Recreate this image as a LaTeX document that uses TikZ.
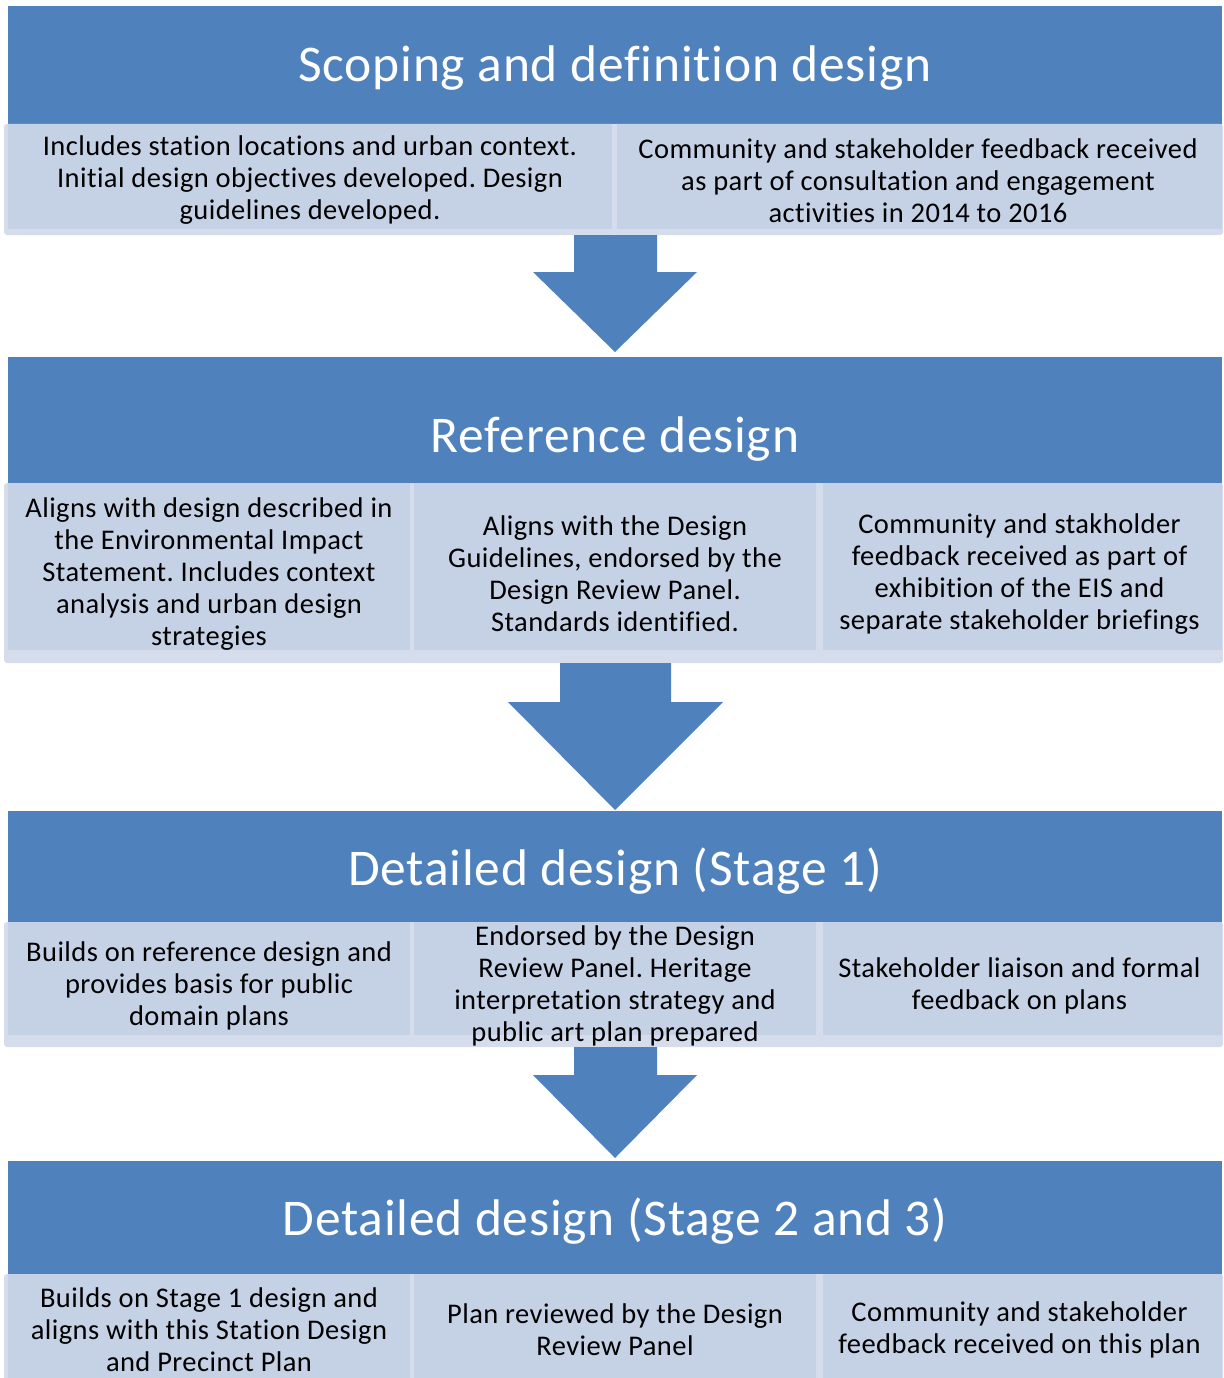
\documentclass[tikz,border=0pt]{standalone}
\usepackage{fontspec}
\setmainfont{Carlito}[LetterSpace=1.5, Ligatures=NoCommon]
\frenchspacing
\usetikzlibrary{calc}
\definecolor{hdr}{HTML}{4F81BD}
\definecolor{subfill}{HTML}{C5D1E5}
\definecolor{frm}{HTML}{D5DCEC}
\tikzset{
  hdrtxt/.style={anchor=base, text=white, font=\fontsize{51.5}{60}\selectfont, inner sep=0},
  subtxt/.style={align=center, text=black, font=\fontsize{28.5}{32}\selectfont, inner sep=0},
  blockarrow/.style={fill=hdr}
}
% #1 name, #2 fx1, #3 fx2, #4 ix1, #5 ix2, #6 top, #7 inner bottom, #8 frame bottom, #9 text
\newcommand{\subcell}[9]{%
  \fill[frm, rounded corners=3] (#2,#6) rectangle (#3,#8);
  \fill[subfill] (#4,#6) rectangle (#5,#7);
  \node[subtxt] (#1) at ($(#2,#6)!0.5!(#3,#8)+(0,1)$) {#9};
}
\begin{document}
\begin{tikzpicture}[x=1pt,y=-1pt]
\useasboundingbox (0,0) rectangle (1223,1378);
\fill[white] (0,0) rectangle (1223,1378);

% headers
\fill[hdr] (8,6) rectangle (1222,124);
\node[hdrtxt] (t1) at (615,82) {Scoping and definition design};
\fill[hdr] (8,357) rectangle (1222,483);
\node[hdrtxt] (t2) at (615,452) {Reference design};
\fill[hdr] (8,811) rectangle (1222,922);
\node[hdrtxt] (t3) at (615,885) {Detailed design (Stage 1)};
\fill[hdr] (8,1161) rectangle (1222,1274);
\node[hdrtxt] (t4) at (615,1235) {Detailed design (Stage 2 and 3)};

% row 1
\subcell{a1}{4}{616}{8}{612}{124}{229}{235}{Includes station locations and urban context.\\Initial design objectives developed. Design\\guidelines developed.}
\subcell{a2}{613}{1223}{617}{1222}{124}{229}{235}{Community and stakeholder feedback received\\as part of consultation and engagement\\activities in 2014 to 2016}

% row 2
\subcell{b1}{4}{414}{8}{410}{483}{650}{663}{Aligns with design described in\\the Environmental Impact\\Statement. Includes context\\analysis and urban design\\strategies}
\subcell{b2}{410}{820}{414}{816}{483}{650}{663}{Aligns with the Design\\Guidelines, endorsed by the\\Design Review Panel.\\Standards identified.}
\subcell{b3}{816}{1223}{823}{1222}{483}{650}{663}{Community and stakholder\\feedback received as part of\\exhibition of the EIS and\\separate stakeholder briefings}

% row 3
\subcell{c1}{4}{414}{8}{410}{922}{1035}{1047}{Builds on reference design and\\provides basis for public\\domain plans}
\subcell{c2}{410}{820}{414}{816}{922}{1035}{1047}{Endorsed by the Design\\Review Panel. Heritage\\interpretation strategy and\\public art plan prepared}
\subcell{c3}{816}{1223}{823}{1222}{922}{1035}{1047}{Stakeholder liaison and formal\\feedback on plans}

% row 4
\subcell{d1}{4}{414}{8}{410}{1274}{1380}{1384}{Builds on Stage 1 design and\\aligns with this Station Design\\and Precinct Plan}
\subcell{d2}{410}{820}{414}{816}{1274}{1380}{1384}{Plan reviewed by the Design\\Review Panel}
\subcell{d3}{816}{1223}{823}{1222}{1274}{1380}{1384}{Community and stakeholder\\feedback received on this plan}

% block arrows
\fill[blockarrow] (574,235) -- (657,235) -- (657,272) -- (697,272) -- (615,352) -- (533,272) -- (574,272) -- cycle;
\fill[blockarrow] (560,663) -- (671,663) -- (671,702) -- (723,702) -- (615,810) -- (508,702) -- (560,702) -- cycle;
\fill[blockarrow] (574,1047) -- (657,1047) -- (657,1075) -- (697,1075) -- (615,1158) -- (533,1075) -- (574,1075) -- cycle;
\end{tikzpicture}
\end{document}
